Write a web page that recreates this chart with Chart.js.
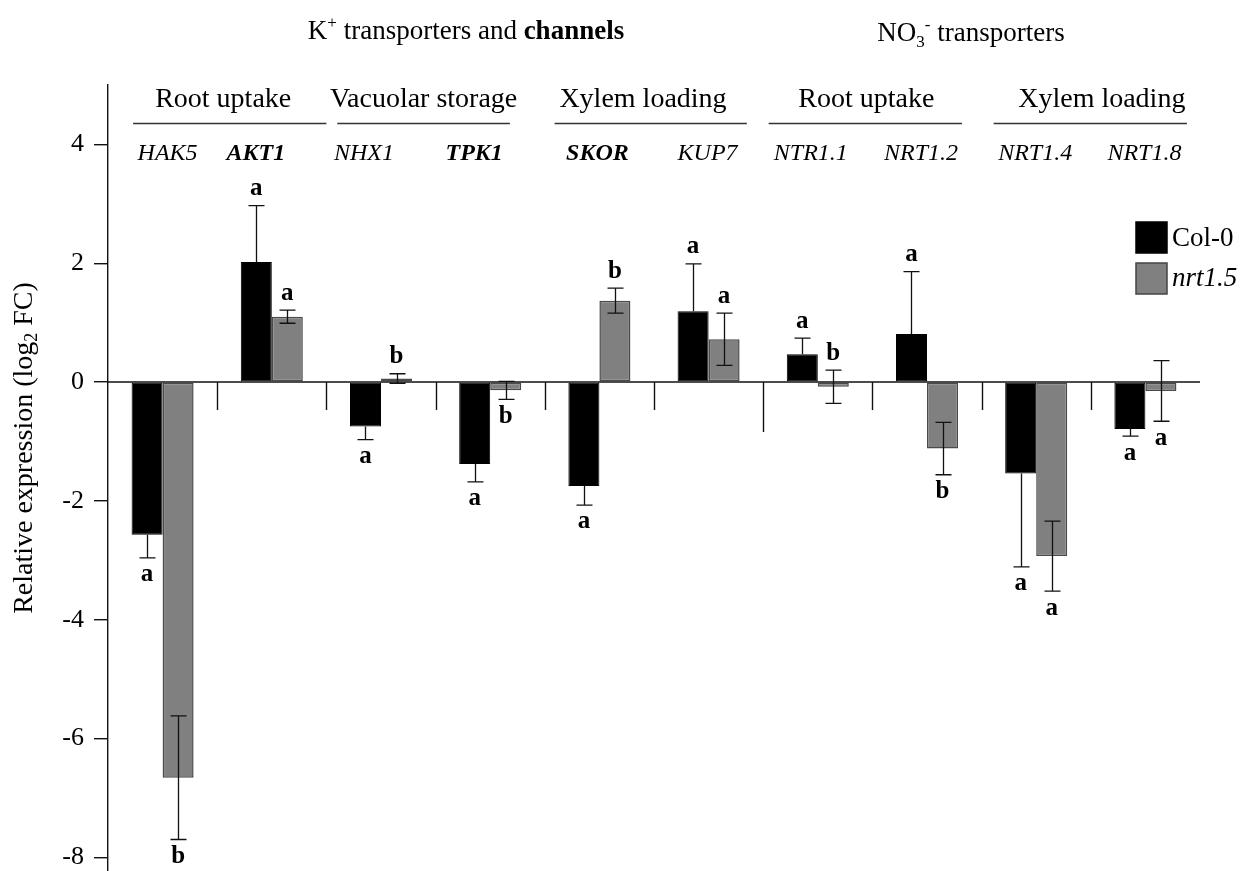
<!DOCTYPE html>
<html>
<head>
<meta charset="utf-8">
<script src="https://cdn.jsdelivr.net/npm/chart.js@4.4.1/dist/chart.umd.min.js"></script>
<style>
  html, body { margin: 0; padding: 0; background: #fff; }
  canvas { display: block; }
</style>
</head>
<body>
<canvas id="myChart" width="1243" height="871"></canvas>
<script>
// genes on the x axis
const genes = ['HAK5', 'AKT1', 'NHX1', 'TPK1', 'SKOR', 'KUP7', 'NTR1.1', 'NRT1.2', 'NRT1.4', 'NRT1.8'];
const boldGenes = ['AKT1', 'TPK1', 'SKOR'];
// function groups, two genes each
const groups = ['Root uptake', 'Vacuolar storage', 'Xylem loading', 'Root uptake', 'Xylem loading'];

// relative expression (log2 FC) and error
const col0 = [-2.57, 2.02, -0.75, -1.38, -1.75, 1.19, 0.47, 0.81, -1.54, -0.79];
const col0Err = [0.39, 0.95, 0.22, 0.3, 0.32, 0.8, 0.27, 1.05, 1.57, 0.12];
const nrt15 = [-6.66, 1.1, 0.06, -0.14, 1.37, 0.72, -0.08, -1.12, -2.93, -0.15];
const nrt15Err = [1.04, 0.11, 0.08, 0.15, 0.21, 0.44, 0.28, 0.44, 0.59, 0.51];

// letters of significance
const col0Letters = ['a', 'a', 'a', 'a', 'a', 'a', 'a', 'a', 'a', 'a'];
const nrt15Letters = ['b', 'a', 'b', 'b', 'b', 'a', 'b', 'b', 'a', 'a'];
const col0LetterUp = [false, true, false, false, false, true, true, true, false, false];
const nrt15LetterUp = [false, true, true, false, true, true, true, false, false, false];

const yTicks = [4, 2, 0, -2, -4, -6, -8];

// small nudges of the header texts (px) and the group underline spans (in category units)
const geneShift = [5, -16, -17, -16, -2, -1, -7, -6, -1, -1];
const groupShift = [6, -12, -11, -6, 11];
const groupLineSpan = [[0.23, 2.0], [2.1, 3.68], [4.09, 5.85], [6.05, 7.82], [8.11, 9.88]];

const SERIF = "'Liberation Serif', 'Times New Roman', serif";

// draw a row of text pieces (for super/subscripts and mixed fonts)
function drawRuns(ctx, runs, x, y, align) {
  let total = 0;
  runs.forEach(r => { ctx.font = r.font; total += ctx.measureText(r.t).width; });
  let cx = align === 'center' ? x - total / 2 : x;
  ctx.textAlign = 'left';
  runs.forEach(r => {
    ctx.font = r.font;
    ctx.fillText(r.t, cx, y + (r.dy || 0));
    cx += ctx.measureText(r.t).width;
  });
}

const extras = {
  id: 'extras',
  afterDatasetsDraw(chart) {
    const ctx = chart.ctx;
    const area = chart.chartArea;
    const y = chart.scales.y;
    const y0 = y.getPixelForValue(0);
    ctx.save();
    ctx.strokeStyle = '#111';
    ctx.lineWidth = 1.4;

    // zero line
    ctx.beginPath();
    ctx.moveTo(area.left, y0);
    ctx.lineTo(area.right, y0);
    ctx.stroke();

    // separators between genes
    const catW = (area.right - area.left) / genes.length;
    for (let i = 1; i < genes.length; i++) {
      const sx = Math.round(area.left + i * catW) + 0.5;
      ctx.beginPath();
      ctx.moveTo(sx, y0);
      ctx.lineTo(sx, y0 + (i === 6 ? 50 : 28));
      ctx.stroke();
    }

    // error bars and letters
    const sets = [
      { vals: col0, err: col0Err, letters: col0Letters, up: col0LetterUp, both: false },
      { vals: nrt15, err: nrt15Err, letters: nrt15Letters, up: nrt15LetterUp, both: true }
    ];
    ctx.lineWidth = 1.3;
    ctx.font = 'bold 25px ' + SERIF;
    ctx.textAlign = 'center';
    ctx.textBaseline = 'middle';
    ctx.fillStyle = '#000';
    sets.forEach((s, di) => {
      const meta = chart.getDatasetMeta(di);
      meta.data.forEach((bar, i) => {
        const v = s.vals[i], e = s.err[i];
        const bx = Math.round(bar.x) + 0.5;
        let lo = v - e, hi = v + e;
        if (!s.both) { if (v >= 0) lo = v; else hi = v; }
        const pLo = y.getPixelForValue(lo), pHi = y.getPixelForValue(hi);
        ctx.beginPath();
        ctx.moveTo(bx, pLo);
        ctx.lineTo(bx, pHi);
        if (s.both || v < 0) { ctx.moveTo(bx - 8, pLo); ctx.lineTo(bx + 8, pLo); }
        if (s.both || v >= 0) { ctx.moveTo(bx - 8, pHi); ctx.lineTo(bx + 8, pHi); }
        ctx.stroke();
        const top = y.getPixelForValue(Math.max(v + e, v));
        const bottom = y.getPixelForValue(Math.min(v - e, v));
        if (s.up[i]) ctx.fillText(s.letters[i], bar.x, Math.min(top, y0) - 17);
        else ctx.fillText(s.letters[i], bar.x, Math.max(bottom, y0) + 17);
      });
    });
    ctx.restore();
  },
  afterDraw(chart) {
    const ctx = chart.ctx;
    const area = chart.chartArea;
    const catW = (area.right - area.left) / genes.length;
    ctx.save();
    ctx.fillStyle = '#000';
    ctx.textBaseline = 'alphabetic';

    // top headings
    drawRuns(ctx, [
      { t: 'K', font: '27px ' + SERIF },
      { t: '+', font: '17px ' + SERIF, dy: -11 },
      { t: ' transporters and ', font: '27px ' + SERIF },
      { t: 'channels', font: 'bold 27px ' + SERIF }
    ], 466, 39, 'center');
    drawRuns(ctx, [
      { t: 'NO', font: '27px ' + SERIF },
      { t: '3', font: '17px ' + SERIF, dy: 6 },
      { t: '-', font: '17px ' + SERIF, dy: -11 },
      { t: ' transporters', font: '27px ' + SERIF }
    ], 971, 41, 'center');

    // group labels and underlines
    ctx.strokeStyle = '#333';
    ctx.lineWidth = 1.3;
    groups.forEach((g, k) => {
      const gl = area.left + 2 * k * catW;
      ctx.font = '28px ' + SERIF;
      ctx.textAlign = 'center';
      ctx.fillText(g, gl + catW + groupShift[k], 107);
      ctx.beginPath();
      ctx.moveTo(area.left + groupLineSpan[k][0] * catW, 123.5);
      ctx.lineTo(area.left + groupLineSpan[k][1] * catW, 123.5);
      ctx.stroke();
    });

    // gene labels
    genes.forEach((g, i) => {
      const cx = area.left + (i + 0.5) * catW + geneShift[i];
      ctx.font = (boldGenes.includes(g) ? 'italic bold ' : 'italic ') + '24px ' + SERIF;
      ctx.textAlign = 'center';
      ctx.fillText(g, cx, 160);
    });

    // legend
    ctx.lineWidth = 1.5;
    ctx.fillStyle = '#000';
    ctx.strokeStyle = '#000';
    ctx.fillRect(1136, 222, 31, 31);
    ctx.strokeRect(1136, 222, 31, 31);
    ctx.fillStyle = '#808080';
    ctx.strokeStyle = '#444';
    ctx.fillRect(1136, 263, 31, 31);
    ctx.strokeRect(1136, 263, 31, 31);
    ctx.fillStyle = '#000';
    ctx.textAlign = 'left';
    ctx.textBaseline = 'middle';
    ctx.font = '27px ' + SERIF;
    ctx.fillText('Col-0', 1172, 239);
    ctx.font = 'italic 27px ' + SERIF;
    ctx.fillText('nrt1.5', 1172, 279);

    // y axis title
    ctx.translate(25, 448);
    ctx.rotate(-Math.PI / 2);
    ctx.textBaseline = 'middle';
    drawRuns(ctx, [
      { t: 'Relative expression (log', font: '28px ' + SERIF },
      { t: '2', font: '18px ' + SERIF, dy: 7 },
      { t: ' FC)', font: '28px ' + SERIF }
    ], 0, 0, 'center');
    ctx.restore();
  }
};

const config = {
  type: 'bar',
  data: {
    labels: genes,
    datasets: [
      {
        label: 'Col-0',
        data: col0,
        backgroundColor: '#000',
        borderColor: '#000',
        borderWidth: 1,
        borderSkipped: false
      },
      {
        label: 'nrt1.5',
        data: nrt15,
        backgroundColor: '#808080',
        borderColor: '#4a4a4a',
        borderWidth: 1.5,
        borderSkipped: false
      }
    ]
  },
  options: {
    responsive: false,
    animation: false,
    maintainAspectRatio: false,
    layout: { padding: { left: 0, right: 43, top: 85, bottom: 0 } },
    categoryPercentage: 0.568,
    barPercentage: 1.0,
    plugins: {
      legend: { display: false },
      tooltip: { enabled: false }
    },
    scales: {
      x: { display: false },
      y: {
        min: -8.23,
        max: 5,
        afterFit: scale => {
          scale.width = 108;
          scale.paddingTop = 0;
          scale.paddingBottom = 0;
        },
        afterBuildTicks: scale => { scale.ticks = yTicks.map(v => ({ value: v })); },
        border: { display: true, color: '#111', width: 1.4 },
        grid: { drawOnChartArea: false, drawTicks: true, tickLength: 14, color: '#111', lineWidth: 1.4 },
        ticks: {
          color: '#000',
          padding: 10,
          font: { family: SERIF, size: 26 }
        }
      }
    }
  },
  plugins: [extras]
};

const ctx = document.getElementById('myChart').getContext('2d');
const myChart = new Chart(ctx, config);
</script>
</body>
</html>
